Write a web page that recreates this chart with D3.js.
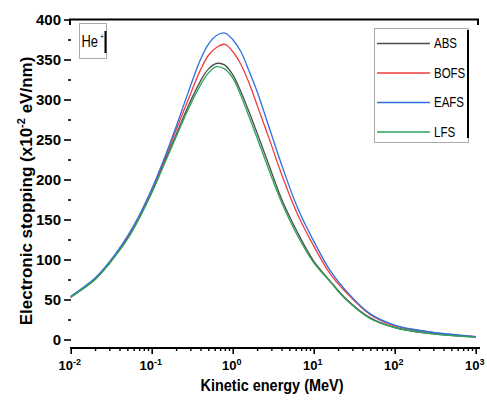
<!DOCTYPE html>
<html>
<head>
<meta charset="utf-8">
<script src="https://cdn.jsdelivr.net/npm/d3@7"></script>
<style>
body { margin: 0; background: #fff; }
svg { display: block; }
</style>
</head>
<body>
<div id="chart"></div>
<script>
// data
var energy = [0.01, 0.02, 0.03, 0.05, 0.07, 0.1, 0.14, 0.2, 0.28, 0.4, 0.5, 0.63, 0.8, 1, 1.26, 1.6, 2, 2.8, 4, 6.3, 10, 16, 25, 50, 100, 250, 1000];
var ABS  = [53, 75, 95, 126, 152, 184, 219, 256, 291, 323, 338, 345, 343, 331, 310, 284, 258, 218, 176, 134, 98, 73, 51, 27, 15, 8, 3];
var BOFS = [53, 76, 96, 127, 153, 186, 222, 262, 299, 337, 355, 365, 369, 360, 344, 320, 293, 252, 207, 157, 117, 82, 59, 31, 17, 9.5, 3.5];
var EAFS = [54, 77, 97, 129, 155, 188, 224, 266, 308, 350, 369, 380, 383, 375, 360, 335, 310, 266, 219, 165, 123, 86, 61, 32, 18, 10, 3.5];
var LFS  = [53, 75, 95, 125, 151, 183, 217, 253, 287, 318, 333, 341, 338, 327, 305, 278, 252, 212, 172, 130, 96, 72, 50, 26, 15, 8, 3];
var seriesNames = ["ABS", "BOFS", "EAFS", "LFS"];
var seriesColors = ["#4d4d4d", "#f03c3c", "#2f6fe0", "#2aa55a"];
var yTicks = [0, 50, 100, 150, 200, 250, 300, 350, 400];
var xTicks = [0.01, 0.1, 1, 10, 100, 1000];
var xTickExp = ["-2", "-1", "0", "1", "2", "3"];

var width = 487, height = 401;
var sans = "'Liberation Sans', Arial, sans-serif";

var svg = d3.select("#chart").append("svg")
    .attr("width", width)
    .attr("height", height);

var x = d3.scaleLog().domain([0.01, 1000]).range([70.7, 475.7]),
    y = d3.scaleLinear().domain([0, 400]).range([339.5, 19.5]);

// squeeze text to look like a narrow face
function condense(sel, f) {
    sel.each(function() {
        var w = this.getComputedTextLength();
        d3.select(this).attr("textLength", w * f).attr("lengthAdjust", "spacingAndGlyphs");
    });
}

// top frame line with end ticks
svg.append("path")
    .attr("d", "M70,25V19.5H478V25")
    .attr("fill", "none")
    .attr("stroke", "#000")
    .attr("stroke-width", 2);

// y axis (ticks only)
var yaxis = svg.append("g")
    .attr("transform", "translate(71,0)")
    .call(d3.axisLeft(y).tickValues(yTicks).tickSize(7).tickPadding(3));
yaxis.select(".domain").remove();
yaxis.selectAll("line").attr("stroke-width", 1.6);
yaxis.selectAll("text")
    .style("font-family", sans)
    .style("font-size", "15px")
    .style("font-weight", "bold")
    .attr("fill", "#000");

var yminor = svg.append("g")
    .attr("transform", "translate(71,0)")
    .call(d3.axisLeft(y).tickValues(d3.range(25, 400, 50)).tickSize(3).tickFormat(""));
yminor.select(".domain").remove();
yminor.selectAll("line").attr("stroke-width", 1.6);

// x axis
var minors = [];
for (var k = -2; k < 3; k++) {
    for (var m = 2; m < 10; m++) minors.push(m * Math.pow(10, k));
}

var xaxis = svg.append("g")
    .attr("transform", "translate(0,348)")
    .call(d3.axisBottom(x).tickValues(xTicks).tickSize(6).tickFormat(""));
xaxis.select(".domain").remove();
xaxis.selectAll("line").attr("stroke-width", 1.6);

var xminor = svg.append("g")
    .attr("transform", "translate(0,348)")
    .call(d3.axisBottom(x).tickValues(minors).tickSize(3).tickFormat(""));
xminor.select(".domain").remove();
xminor.selectAll("line").attr("stroke-width", 1.4);

svg.append("line")
    .attr("x1", 70).attr("x2", 480)
    .attr("y1", 348).attr("y2", 348)
    .attr("stroke", "#000")
    .attr("stroke-width", 2.2);

var xlab = svg.append("g").selectAll("text")
    .data(xTicks)
    .enter().append("text")
    .attr("x", function(d) { return x(d) - 1; })
    .attr("y", 370)
    .attr("text-anchor", "middle")
    .style("font-family", sans)
    .style("font-size", "13px")
    .style("font-weight", "bold");
xlab.append("tspan").text("10");
xlab.append("tspan")
    .attr("dy", -5)
    .style("font-size", "9px")
    .text(function(d, i) { return xTickExp[i]; });

// axis titles
svg.append("text")
    .attr("x", 272)
    .attr("y", 391)
    .attr("text-anchor", "middle")
    .attr("textLength", 143)
    .attr("lengthAdjust", "spacingAndGlyphs")
    .style("font-family", sans)
    .style("font-size", "17px")
    .style("font-weight", "bold")
    .text("Kinetic energy (MeV)");

var ytitle = svg.append("text")
    .attr("transform", "translate(32,191) rotate(-90)")
    .attr("text-anchor", "middle")
    .style("font-family", sans)
    .style("font-size", "17px")
    .style("font-weight", "bold");
ytitle.append("tspan").text("Electronic stopping (x10");
ytitle.append("tspan").attr("dy", -7).style("font-size", "11px").text("-2");
ytitle.append("tspan").attr("dy", 7).text(" eV/nm)");

// curves
var line = d3.line()
    .curve(d3.curveCatmullRom.alpha(0.5))
    .x(function(d) { return x(d[0]); })
    .y(function(d) { return y(d[1]); });

var allSeries = [ABS, BOFS, EAFS, LFS];
svg.append("g").selectAll("path")
    .data(allSeries)
    .enter().append("path")
    .attr("fill", "none")
    .attr("stroke", function(d, i) { return seriesColors[i]; })
    .attr("stroke-width", 1.3)
    .attr("d", function(d) { return line(d3.zip(energy, d)); });

// He+ box
svg.append("rect")
    .attr("x", 79.5).attr("y", 23.5)
    .attr("width", 27).attr("height", 35)
    .attr("fill", "#fff")
    .attr("stroke", "#aaa")
    .attr("stroke-width", 1);
svg.append("line")
    .attr("x1", 105.5).attr("x2", 105.5)
    .attr("y1", 31).attr("y2", 53)
    .attr("stroke", "#000").attr("stroke-width", 2);
var he = svg.append("text")
    .attr("x", 81.5)
    .attr("y", 47)
    .style("font-family", sans)
    .style("font-size", "17px");
he.append("tspan")
    .attr("textLength", 16.5)
    .attr("lengthAdjust", "spacingAndGlyphs")
    .text("He");
he.append("tspan")
    .attr("x", 100)
    .attr("dy", -8)
    .style("font-size", "7px")
    .text("+");

// legend
var legend = svg.append("g");
legend.append("rect")
    .attr("x", 374.5).attr("y", 28.5)
    .attr("width", 94).attr("height", 114)
    .attr("fill", "#fff")
    .attr("stroke", "#aaa")
    .attr("stroke-width", 1);
legend.append("line")
    .attr("x1", 468).attr("x2", 468)
    .attr("y1", 30).attr("y2", 138)
    .attr("stroke", "#000").attr("stroke-width", 2);

var items = legend.selectAll(".item")
    .data(seriesNames)
    .enter().append("g")
    .attr("class", "item")
    .attr("transform", function(d, i) { return "translate(0," + (43.5 + i * 29.5) + ")"; });
items.append("line")
    .attr("x1", 377).attr("x2", 430)
    .attr("stroke", function(d, i) { return seriesColors[i]; })
    .attr("stroke-width", 1.3);
var ltext = items.append("text")
    .attr("x", 434)
    .attr("dy", "0.35em")
    .style("font-family", sans)
    .style("font-size", "14px")
    .text(function(d) { return d; });
condense(ltext, 0.82);
</script>
</body>
</html>
